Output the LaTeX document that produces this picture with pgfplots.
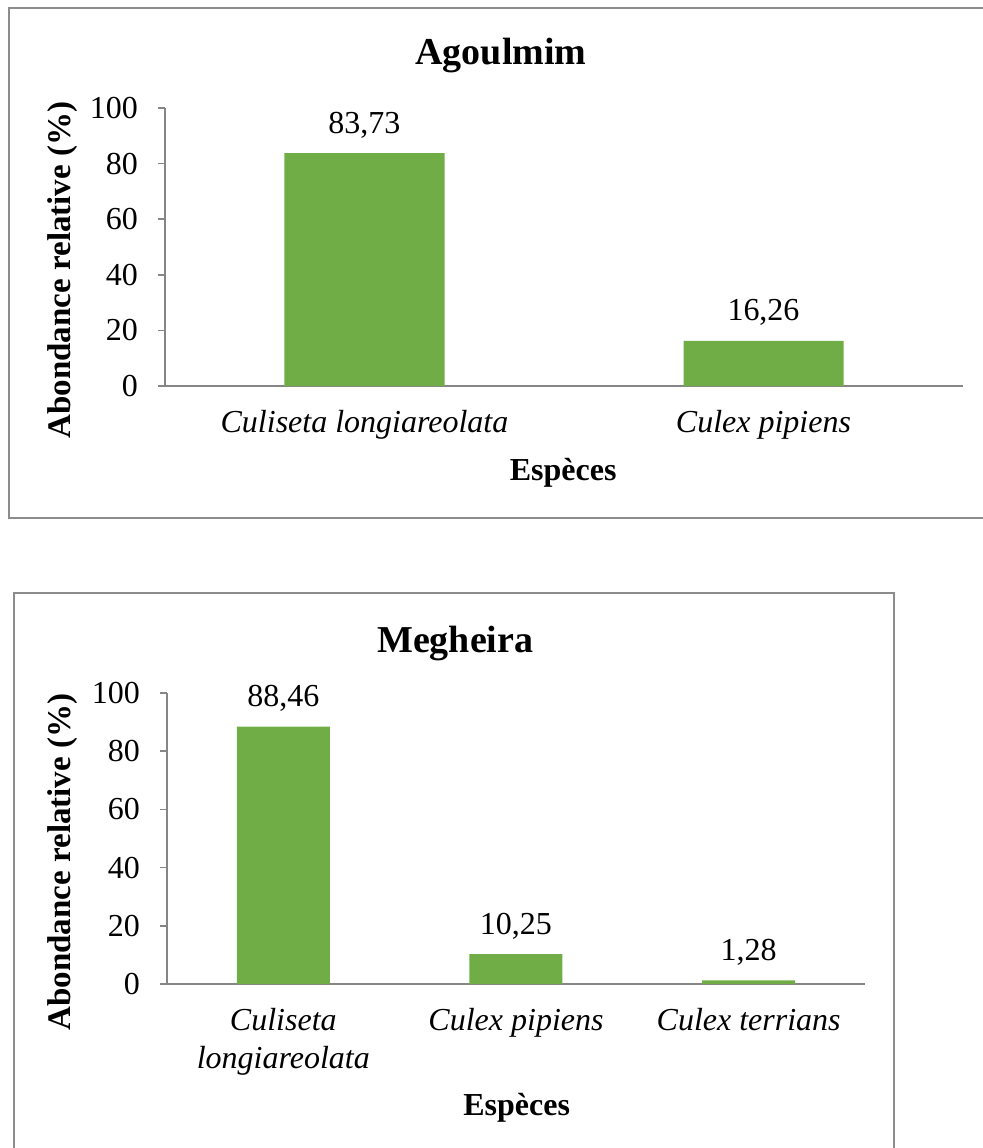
\documentclass[border=0pt]{standalone}
\usepackage{fontspec}
\setmainfont{Liberation Serif}
\usepackage{pgfplots}
\pgfplotsset{compat=1.18}
\definecolor{barg}{HTML}{70AD47}
\definecolor{axgray}{HTML}{868686}
\definecolor{framegray}{HTML}{8C8C8C}

\newcommand{\lbl}{\fontsize{16}{19}\selectfont}

\pgfplotsset{
  abond/.style={
    scale only axis,
    anchor=south west,
    ybar,
    ymin=0, ymax=100, ytick={0,20,...,100},
    axis lines*=left,
    axis line style={axgray, line width=0.75pt},
    ytick style={axgray, line width=0.75pt},
    xtick style={draw=none},
    tick align=outside,
    major tick length=3.5pt,
    xtick=data,
    /pgf/number format/assume math mode=true,
    tick label style={font=\lbl},
    yticklabel style={xshift=-6.5pt},
    xticklabel style={font=\lbl\itshape, align=center, yshift=-5pt},
    nodes near coords,
    nodes near coords style={font=\lbl, text=black, yshift=4pt,
      /pgf/number format/fixed, /pgf/number format/fixed zerofill,
      /pgf/number format/precision=2, /pgf/number format/use comma},
    title style={font=\fontsize{19}{22}\selectfont\bfseries, anchor=center},
    xlabel style={font=\lbl\bfseries, anchor=center},
    ylabel style={font=\fontsize{16.5}{19}\selectfont\bfseries, anchor=center},
    xlabel={Espèces},
    ylabel={Abondance relative (\%)},
  }
}

\begin{document}
\begin{tikzpicture}
\useasboundingbox (0,0) rectangle (491pt,-574pt);

% cadre du haut
\draw[framegray, line width=0.75pt] (4.5pt,-4pt) rectangle (510pt,-259pt);
% cadre du bas
\draw[framegray, line width=0.75pt] (7pt,-296.5pt) rectangle (447pt,-600pt);

% Agoulmim
\begin{axis}[abond,
  at={(82.5pt,-193pt)},
  width=399pt, height=139pt,
  xmin=-0.5, xmax=1.5,
  bar width=80pt,
  xticklabels={Culiseta longiareolata, Culex pipiens},
  title={Agoulmim},
  title style={at={(rel axis cs:0.421,1.146)}},
  xlabel style={at={(rel axis cs:0.499,-0.312)}},
  ylabel style={at={(rel axis cs:-0.128,0.417)}},
]
\addplot[fill=barg, draw=none] coordinates {(0,83.73) (1,16.26)};
\end{axis}

% Megheira
\begin{axis}[abond,
  at={(83.5pt,-492pt)},
  width=349pt, height=145.5pt,
  xmin=-0.5, xmax=2.5,
  bar width=46.5pt,
  xticklabels={{Culiseta\\longiareolata}, Culex pipiens, Culex terrians},
  xticklabel style={anchor=north},
  title={Megheira},
  title style={at={(rel axis cs:0.413,1.130)}},
  xlabel style={at={(rel axis cs:0.501,-0.425)}},
  ylabel style={at={(rel axis cs:-0.149,0.419)}},
]
\addplot[fill=barg, draw=none] coordinates {(0,88.46) (1,10.25) (2,1.28)};
\end{axis}
\end{tikzpicture}
\end{document}
